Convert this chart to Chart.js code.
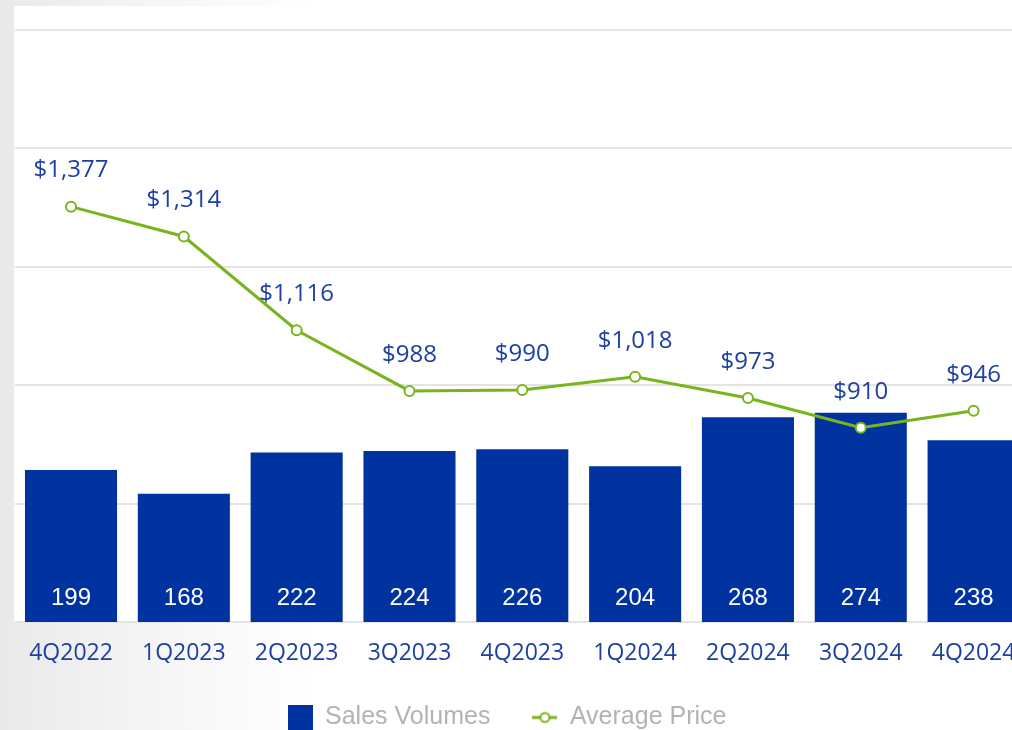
<!DOCTYPE html>
<html>
<head>
<meta charset="utf-8">
<script src="https://cdn.jsdelivr.net/npm/chart.js@4"></script>
<style>
    html, body {
        margin: 0;
        width: 1012px;
        height: 730px;
        overflow: hidden;
        background: linear-gradient(to right, #e9e9e9 0px, #f3f3f3 120px, #ffffff 320px);
    }
    #panel {
        position: absolute;
        left: 14px;
        top: 6px;
        width: 1100px;
        height: 616px;
        background: #ffffff;
    }
    #chart {
        position: absolute;
        left: -23px;
        top: 0;
    }
</style>
</head>
<body>
<div id="panel"></div>
<canvas id="chart" width="1060" height="740"></canvas>
<script>
// Data
const quarters = ['4Q2022', '1Q2023', '2Q2023', '3Q2023', '4Q2023', '1Q2024', '2Q2024', '3Q2024', '4Q2024'];
const salesVolumes = [199, 168, 222, 224, 226, 204, 268, 274, 238];
const averagePrices = [1377, 1314, 1116, 988, 990, 1018, 973, 910, 946];

const barBlue = '#0033a0';
const lineGreen = '#78b41e';
const textBlue = '#1e40a0';
const legendGrey = '#b3b3b3';

// Legend icons
function squareIcon() {
    const c = document.createElement('canvas');
    c.width = 25;
    c.height = 25;
    const g = c.getContext('2d');
    g.fillStyle = barBlue;
    g.fillRect(0, 0, 25, 25);
    return c;
}

function lineIcon() {
    const c = document.createElement('canvas');
    c.width = 25;
    c.height = 14;
    const g = c.getContext('2d');
    g.strokeStyle = lineGreen;
    g.lineWidth = 3;
    g.beginPath();
    g.moveTo(0, 7);
    g.lineTo(25, 7);
    g.stroke();
    g.beginPath();
    g.arc(12.5, 7, 4.5, 0, Math.PI * 2);
    g.fillStyle = '#fff';
    g.fill();
    g.lineWidth = 2;
    g.stroke();
    return c;
}

// Value labels on bars and above the price points
const valueLabels = {
    id: 'valueLabels',
    afterDatasetsDraw(chart) {
        const ctx = chart.ctx;
        const bars = chart.getDatasetMeta(0).data;
        const points = chart.getDatasetMeta(1).data;
        ctx.save();
        ctx.textAlign = 'center';
        ctx.textBaseline = 'middle';

        ctx.font = '24px "Liberation Sans", Arial, sans-serif';
        ctx.fillStyle = '#ffffff';
        bars.forEach((bar, i) => {
            ctx.fillText(salesVolumes[i], bar.x, bar.base - 24);
        });

        ctx.font = '24px "Open Sans", sans-serif';
        ctx.fillStyle = textBlue;
        points.forEach((pt, i) => {
            ctx.fillText('$' + averagePrices[i].toLocaleString('en-US'), pt.x, pt.y - 36);
        });
        ctx.restore();
    }
};

const chart = new Chart(document.getElementById('chart'), {
    data: {
        labels: quarters,
        datasets: [
            {
                type: 'bar',
                label: 'Sales Volumes',
                data: salesVolumes,
                backgroundColor: barBlue,
                yAxisID: 'y',
                order: 2,
                categoryPercentage: 1,
                barPercentage: 0.816
            },
            {
                type: 'line',
                label: 'Average Price',
                data: averagePrices,
                borderColor: lineGreen,
                borderWidth: 3,
                pointRadius: 5,
                pointBorderWidth: 2,
                pointBackgroundColor: '#ffffff',
                pointBorderColor: lineGreen,
                tension: 0,
                yAxisID: 'y1',
                order: 1
            }
        ]
    },
    options: {
        responsive: false,
        animation: false,
        layout: {
            padding: { left: 0, right: 0, top: 30, bottom: 0 }
        },
        scales: {
            x: {
                grid: { display: false, drawTicks: false },
                border: { display: false },
                ticks: {
                    color: textBlue,
                    padding: 18,
                    maxRotation: 0,
                    font: { family: '"Open Sans", sans-serif', size: 23 }
                },
                afterFit: (scale) => { scale.height = 41; }
            },
            y: {
                display: false,
                min: 0,
                max: 775
            },
            y1: {
                position: 'left',
                min: 500,
                max: 1750,
                grid: {
                    color: '#e4e4e4',
                    lineWidth: 2,
                    drawTicks: false
                },
                border: { display: false },
                ticks: { display: false, stepSize: 250 },
                afterFit: (scale) => { scale.width = 37.6; }
            }
        },
        plugins: {
            legend: {
                position: 'bottom',
                labels: {
                    usePointStyle: true,
                    padding: 42,
                    color: legendGrey,
                    font: { family: '"Liberation Sans", Arial, sans-serif', size: 25 },
                    generateLabels: () => [
                        { text: 'Sales Volumes', pointStyle: squareIcon(), fontColor: legendGrey, datasetIndex: 0, lineWidth: 0 },
                        { text: 'Average Price', pointStyle: lineIcon(), fontColor: legendGrey, datasetIndex: 1, lineWidth: 0 }
                    ]
                }
            },
            tooltip: { enabled: false }
        }
    },
    plugins: [valueLabels]
});
</script>
</body>
</html>
